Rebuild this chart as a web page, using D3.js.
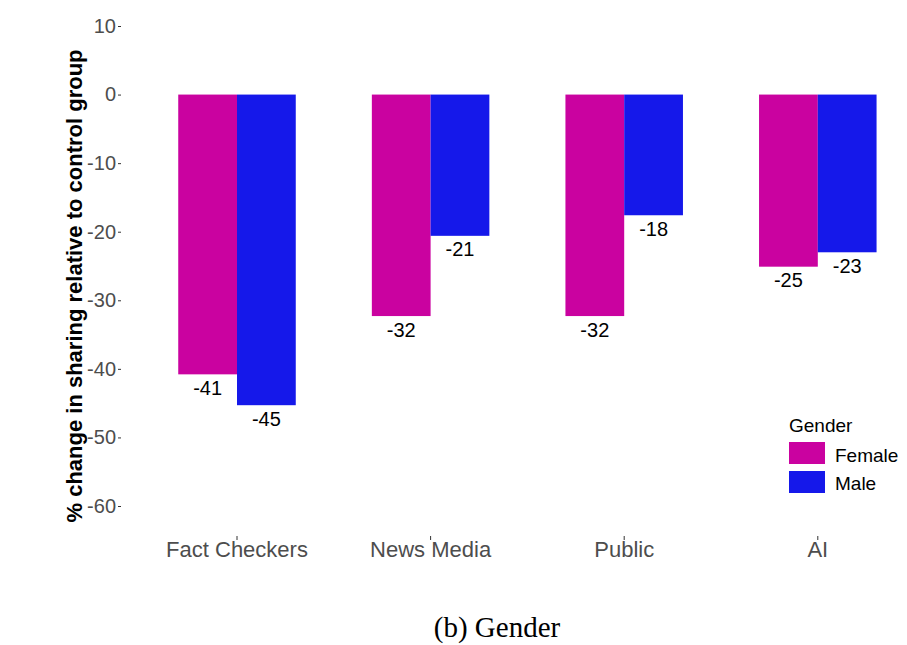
<!DOCTYPE html>
<html lang="en">
<head>
<meta charset="UTF-8">
<title>Gender</title>
<script src="https://d3js.org/d3.v7.min.js"></script>
<style>
  body { margin: 0; background: #fff; }
</style>
</head>
<body>
<svg id="canvas"></svg>
<script>
let categories = ['Fact Checkers', 'News Media', 'Public', 'AI']
let genders = ['Female', 'Male']
let female = [-40.8, -32.3, -32.3, -25.1]
let male = [-45.3, -20.6, -17.6, -23.0]
let yTicks = [10, 0, -10, -20, -30, -40, -50, -60]

let colors = { Female: '#CA02A0', Male: '#1518EA' }
let sans = '"Liberation Sans", Arial, sans-serif'

let width = 907
let height = 645

let svg = d3.select('#canvas')
  .attr('width', width)
  .attr('height', height)
  .style('font-family', sans)

// rows for the bars
let rows = []
categories.forEach((c, i) => {
  rows.push({ cat: c, gender: 'Female', value: female[i] })
  rows.push({ cat: c, gender: 'Male', value: male[i] })
})

let yScale = d3.scaleLinear()
  .domain([-60, 10])
  .range([506, 26])

let xScale = d3.scaleBand()
  .domain(categories)
  .range([140.2, 914.6])
  .paddingInner(0.393)
  .paddingOuter(0.1965)

let xInner = d3.scaleBand()
  .domain(genders)
  .range([0, xScale.bandwidth()])

// bars
svg.selectAll('rect.bar')
  .data(rows)
  .enter()
  .append('rect')
  .attr('class', 'bar')
  .attr('x', d => xScale(d.cat) + xInner(d.gender))
  .attr('y', yScale(0))
  .attr('width', xInner.bandwidth())
  .attr('height', d => yScale(d.value) - yScale(0))
  .attr('fill', d => colors[d.gender])

// value labels
svg.selectAll('text.val')
  .data(rows)
  .enter()
  .append('text')
  .attr('class', 'val')
  .attr('x', d => xScale(d.cat) + xInner(d.gender) + xInner.bandwidth() / 2)
  .attr('y', d => yScale(d.value) + 20.5)
  .attr('text-anchor', 'middle')
  .attr('font-size', 20)
  .attr('fill', '#000')
  .text(d => String(Math.round(d.value)))

// y axis
let yAxis = d3.axisLeft(yScale)
  .tickValues(yTicks)
  .tickFormat(d => String(d))
  .tickSize(3)
  .tickPadding(2)
let gy = svg.append('g')
  .attr('transform', 'translate(121,0)')
  .call(yAxis)
gy.select('.domain').remove()
gy.selectAll('.tick line').attr('stroke', '#333')
gy.selectAll('.tick text')
  .attr('font-size', 20)
  .attr('fill', '#4D4D4D')
  .style('font-family', sans)

// x axis
let xAxis = d3.axisBottom(xScale)
  .tickSize(4)
  .tickPadding(1.5)
let gx = svg.append('g')
  .attr('transform', 'translate(0,536)')
  .call(xAxis)
gx.select('.domain').remove()
gx.selectAll('.tick line').attr('stroke', '#333')
gx.selectAll('.tick text')
  .attr('font-size', 22)
  .attr('fill', '#4D4D4D')
  .style('font-family', sans)

// y axis title
svg.append('text')
  .attr('transform', 'translate(81.5,286) rotate(-90)')
  .attr('text-anchor', 'middle')
  .attr('font-size', 22)
  .attr('font-weight', 'bold')
  .attr('fill', '#000')
  .text('% change in sharing relative to control group')

// legend
let legend = svg.append('g').attr('transform', 'translate(789,0)')
legend.append('text')
  .attr('x', 0)
  .attr('y', 432)
  .attr('font-size', 19)
  .attr('fill', '#000')
  .text('Gender')
genders.forEach((g, i) => {
  legend.append('rect')
    .attr('x', 0)
    .attr('y', 442 + i * 29)
    .attr('width', 36)
    .attr('height', 22)
    .attr('fill', colors[g])
  legend.append('text')
    .attr('x', 46)
    .attr('y', 461.5 + i * 28.5)
    .attr('font-size', 19)
    .attr('fill', '#000')
    .text(g)
})

// caption
svg.append('text')
  .attr('x', 497)
  .attr('y', 637)
  .attr('text-anchor', 'middle')
  .attr('font-size', 29)
  .style('font-family', '"Liberation Serif", "Times New Roman", serif')
  .attr('fill', '#000')
  .text('(b) Gender')
</script>
</body>
</html>
